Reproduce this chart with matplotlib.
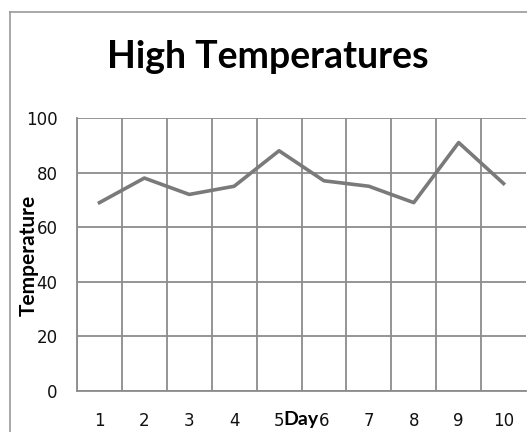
import matplotlib
matplotlib.use("Agg")
import matplotlib.pyplot as plt
from matplotlib.lines import Line2D

days = [1, 2, 3, 4, 5, 6, 7, 8, 9, 10]
high_temps = [69, 78, 72, 75, 88, 77, 75, 69, 91, 76]
y_ticks = [0, 20, 40, 60, 80, 100]

grid_color = "#8c8c8c"

fig = plt.figure(figsize=(5.27, 4.32), dpi=100)
ax = fig.add_axes([77 / 527, 1 - 391 / 432, 449 / 527, 273 / 432])

ax.plot(days, high_temps, color="#7a7a7a", linewidth=2.6, solid_joinstyle="round")

ax.set_xlim(0.5, 10.5)
ax.set_ylim(0, 100)
ax.set_xticks(days)
ax.set_yticks(y_ticks)
# cell borders between the days
ax.set_xticks([d + 0.5 for d in range(0, 10)], minor=True)
ax.grid(True, which="minor", axis="x", color=grid_color, linewidth=1.3)
ax.grid(True, which="major", axis="y", color=grid_color, linewidth=1.3)
ax.set_axisbelow(True)

ax.tick_params(which="both", length=0)
ax.tick_params(axis="y", pad=14, labelsize=12)
ax.tick_params(axis="x", pad=15, labelsize=12)
for lbl in ax.get_xticklabels() + ax.get_yticklabels():
    lbl.set_color("#111111")

for side in ["top", "right"]:
    ax.spines[side].set_visible(False)
for side in ["left", "bottom"]:
    ax.spines[side].set_color(grid_color)
    ax.spines[side].set_linewidth(1.3)

fig.text(301 / 527, 1 - 420 / 432, "Day", ha="center", va="center",
         fontsize=14, fontweight="bold", family="Lato")
fig.text(29 / 527, 1 - 255 / 432, "Temperature", ha="center", va="center",
         rotation=90, fontsize=15, fontweight="bold", family="Lato")

fig.text(268 / 527, 1 - 68 / 432, "High Temperatures", ha="center", va="baseline",
         fontsize=27, fontweight="bold", family="Lato")

# outer chart frame
fig.add_artist(Line2D([10 / 527, 10 / 527], [0, 1 - 12 / 432],
                      transform=fig.transFigure, color="#999999", linewidth=1.2))
fig.add_artist(Line2D([10 / 527, 1], [1 - 12 / 432, 1 - 12 / 432],
                      transform=fig.transFigure, color="#999999", linewidth=1.2))

fig.savefig("out.png", dpi=100)
